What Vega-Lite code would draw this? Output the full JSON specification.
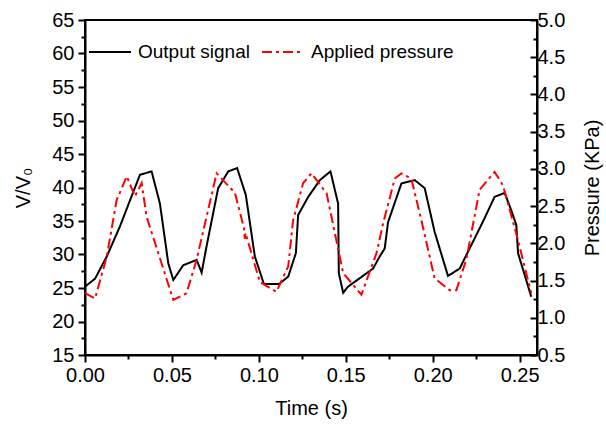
{
  "$schema": "https://vega.github.io/schema/vega-lite/v6.json",
  "width": 452,
  "height": 335,
  "autosize": "none",
  "padding": {"left": 85, "top": 20, "right": 69, "bottom": 72},
  "background": "white",
  "config": {
    "font": "Liberation Sans",
    "view": {"stroke": "black", "strokeWidth": 2},
    "axis": {
      "grid": false,
      "domainColor": "black",
      "domainWidth": 2,
      "tickColor": "black",
      "tickWidth": 2,
      "labelColor": "black",
      "labelFont": "Liberation Sans",
      "labelFontSize": 20,
      "titleFont": "Liberation Sans",
      "titleFontSize": 20,
      "titleFontWeight": "normal",
      "titleColor": "black"
    },
    "legend": {"labelFont": "Liberation Sans", "labelFontSize": 19, "labelColor": "black"}
  },
  "datasets": {
    "output": [
      {"t": 0.0, "v": 25.2}, {"t": 0.0058, "v": 26.4}, {"t": 0.0125, "v": 29.7},
      {"t": 0.0201, "v": 34.2}, {"t": 0.0316, "v": 41.9}, {"t": 0.0383, "v": 42.4},
      {"t": 0.0431, "v": 37.6}, {"t": 0.0479, "v": 28.7}, {"t": 0.0508, "v": 26.2},
      {"t": 0.0565, "v": 28.4}, {"t": 0.0642, "v": 29.2}, {"t": 0.0671, "v": 27.3},
      {"t": 0.0699, "v": 31.2}, {"t": 0.0766, "v": 39.9}, {"t": 0.0824, "v": 42.4},
      {"t": 0.0875, "v": 42.9}, {"t": 0.0925, "v": 38.9}, {"t": 0.0977, "v": 29.7},
      {"t": 0.1029, "v": 25.6}, {"t": 0.1117, "v": 25.6}, {"t": 0.1169, "v": 26.7},
      {"t": 0.1213, "v": 30.2}, {"t": 0.1226, "v": 35.9}, {"t": 0.1284, "v": 38.6},
      {"t": 0.1351, "v": 41.1}, {"t": 0.1412, "v": 42.4}, {"t": 0.1456, "v": 37.6},
      {"t": 0.146, "v": 27.2}, {"t": 0.1485, "v": 24.3}, {"t": 0.1513, "v": 25.2},
      {"t": 0.1657, "v": 27.9}, {"t": 0.1695, "v": 29.7}, {"t": 0.1724, "v": 30.9},
      {"t": 0.1743, "v": 34.8}, {"t": 0.182, "v": 40.6}, {"t": 0.1897, "v": 41.1},
      {"t": 0.1954, "v": 39.9}, {"t": 0.2011, "v": 33.4}, {"t": 0.2088, "v": 26.8},
      {"t": 0.2155, "v": 27.9}, {"t": 0.2289, "v": 34.9}, {"t": 0.2356, "v": 38.6},
      {"t": 0.2414, "v": 39.2}, {"t": 0.2452, "v": 36.6}, {"t": 0.2481, "v": 34.4},
      {"t": 0.2491, "v": 30.2}, {"t": 0.2567, "v": 23.7}
    ],
    "pressure": [
      {"t": 0.0, "p": 1.33}, {"t": 0.0058, "p": 1.26}, {"t": 0.0125, "p": 1.82},
      {"t": 0.0182, "p": 2.58}, {"t": 0.024, "p": 2.9}, {"t": 0.0287, "p": 2.63},
      {"t": 0.0326, "p": 2.81}, {"t": 0.0354, "p": 2.36}, {"t": 0.0508, "p": 1.24},
      {"t": 0.0584, "p": 1.33}, {"t": 0.0642, "p": 1.78}, {"t": 0.0757, "p": 2.94},
      {"t": 0.0862, "p": 2.68}, {"t": 0.0915, "p": 2.2}, {"t": 0.0919, "p": 2.06},
      {"t": 0.0923, "p": 2.14}, {"t": 0.1006, "p": 1.48}, {"t": 0.1101, "p": 1.35},
      {"t": 0.1169, "p": 1.69}, {"t": 0.1197, "p": 2.31}, {"t": 0.1255, "p": 2.81},
      {"t": 0.1303, "p": 2.94}, {"t": 0.139, "p": 2.67}, {"t": 0.1485, "p": 1.6},
      {"t": 0.159, "p": 1.31}, {"t": 0.1677, "p": 1.87}, {"t": 0.1715, "p": 2.27},
      {"t": 0.1782, "p": 2.87}, {"t": 0.182, "p": 2.94}, {"t": 0.1877, "p": 2.87},
      {"t": 0.1944, "p": 2.22}, {"t": 0.2011, "p": 1.53}, {"t": 0.2098, "p": 1.37},
      {"t": 0.2136, "p": 1.37}, {"t": 0.2193, "p": 1.78}, {"t": 0.227, "p": 2.72},
      {"t": 0.2356, "p": 2.96}, {"t": 0.2404, "p": 2.78}, {"t": 0.2481, "p": 2.13},
      {"t": 0.2567, "p": 1.33}
    ]
  },
  "encoding": {
    "x": {
      "field": "t",
      "type": "quantitative",
      "scale": {"domain": [0, 0.26], "nice": false, "zero": false},
      "axis": {
        "title": "Time (s)",
        "values": [0, 0.025, 0.05, 0.075, 0.1, 0.125, 0.15, 0.175, 0.2, 0.225, 0.25],
        "labelExpr": "abs(datum.value * 20 - round(datum.value * 20)) < 0.001 ? format(datum.value, '.2f') : ''",
        "tickSize": {"condition": {"test": "abs(datum.value * 20 - round(datum.value * 20)) < 0.001", "value": 7}, "value": 4},
        "labelPadding": 3,
        "labelFlush": false,
        "titlePadding": 13
      }
    }
  },
  "layer": [
    {
      "data": {"name": "output"},
      "mark": {"type": "line", "strokeWidth": 2},
      "encoding": {
        "y": {
          "field": "v",
          "type": "quantitative",
          "scale": {"domain": [15, 65], "nice": false, "zero": false},
          "axis": {
            "orient": "left",
            "title": "V/V₀",
            "values": [15, 17.5, 20, 22.5, 25, 27.5, 30, 32.5, 35, 37.5, 40, 42.5, 45, 47.5, 50, 52.5, 55, 57.5, 60, 62.5, 65],
            "labelExpr": "datum.value % 5 === 0 ? datum.label : ''",
            "tickSize": {"condition": {"test": "datum.value % 5 === 0", "value": 7}, "value": 4},
            "labelPadding": 4,
            "labelFlush": false,
            "titlePadding": 18
          }
        },
        "color": {
          "datum": "Output signal",
          "type": "nominal",
          "scale": {"domain": ["Output signal", "Applied pressure"], "range": ["black", "#ff0000"]},
          "legend": {
            "title": null,
            "orient": "none",
            "direction": "horizontal",
            "legendX": 3,
            "legendY": 10,
            "symbolType": "stroke",
            "symbolSize": 1764,
            "symbolStrokeWidth": 2,
            "labelOffset": 6,
            "columnPadding": 8,
            "padding": 0
          }
        },
        "strokeDash": {
          "datum": "Output signal",
          "type": "nominal",
          "scale": {"domain": ["Output signal", "Applied pressure"], "range": [[1, 0], [10, 4, 3, 4]]},
          "legend": null
        }
      }
    },
    {
      "data": {"name": "pressure"},
      "mark": {"type": "line", "strokeWidth": 2},
      "encoding": {
        "y": {
          "field": "p",
          "type": "quantitative",
          "scale": {"domain": [0.5, 5], "nice": false, "zero": false},
          "axis": {
            "orient": "right",
            "title": "Pressure (KPa)",
            "titleAngle": 270,
            "titleBaseline": "top",
            "values": [0.5, 0.75, 1, 1.25, 1.5, 1.75, 2, 2.25, 2.5, 2.75, 3, 3.25, 3.5, 3.75, 4, 4.25, 4.5, 4.75, 5],
            "labelExpr": "(datum.value * 2) % 1 === 0 ? format(datum.value, '.1f') : ''",
            "tickSize": {"condition": {"test": "(datum.value * 2) % 1 === 0", "value": -7}, "value": -4},
            "labelPadding": 7,
            "labelFlush": false,
            "titlePadding": 18
          }
        },
        "color": {"datum": "Applied pressure", "type": "nominal"},
        "strokeDash": {"datum": "Applied pressure", "type": "nominal"}
      }
    }
  ],
  "resolve": {"scale": {"y": "independent"}, "axis": {"y": "independent"}}
}
